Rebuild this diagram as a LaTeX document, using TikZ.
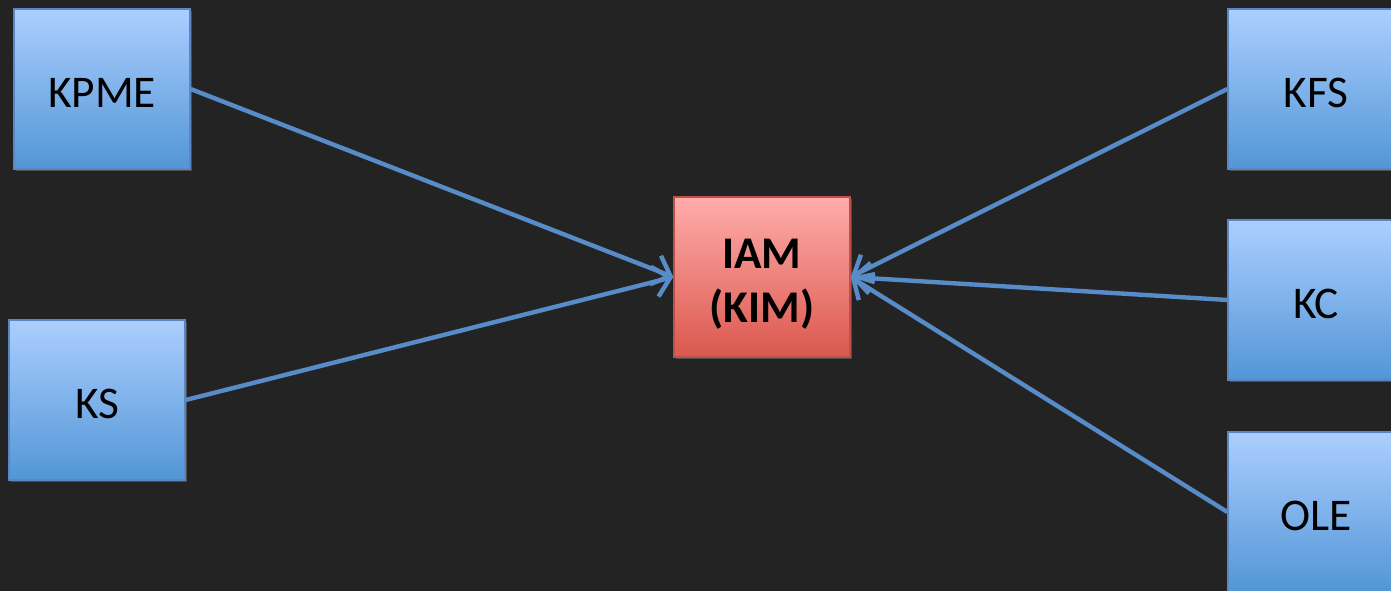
\documentclass[tikz,border=0pt]{standalone}
\usepackage{fontspec}
\setmainfont{Carlito}
\usetikzlibrary{arrows.meta,shadows}

\definecolor{bgdark}{RGB}{35,35,35}
\definecolor{boxtop}{RGB}{172,206,255}
\definecolor{boxbot}{RGB}{82,150,214}
\definecolor{boxline}{RGB}{90,135,195}
\definecolor{redtop}{RGB}{255,172,170}
\definecolor{redbot}{RGB}{219,88,78}
\definecolor{redline}{RGB}{190,80,76}
\definecolor{linkblue}{RGB}{88,140,200}

\begin{document}
\begin{tikzpicture}[x=0.75pt,y=-0.75pt,
    main node/.style={rectangle,draw=boxline,line width=1pt,minimum width=132pt,minimum height=120pt,
        top color=boxtop,bottom color=boxbot,font=\fontsize{34}{41}\selectfont,
        text height=28pt,text depth=0pt,
        drop shadow={opacity=0.45,shadow xshift=1.5pt,shadow yshift=-1.5pt}},
    hub node/.style={main node,draw=redline,top color=redtop,bottom color=redbot,
        font=\fontsize{34}{41}\selectfont\bfseries,align=center,text height=69pt,text depth=0pt},
    link/.style={draw=linkblue,line width=3.3pt,-{Straight Barb[length=12pt,width=23pt,line width=3.3pt]}}]
                \useasboundingbox (0,0) rectangle (1391,591);
                \fill[bgdark] (0,0) rectangle (1391,591);

                \node[main node] (kpme) at (102,89) {KPME};
                \node[main node] (ks) at (97,400) {KS};
                \node[hub node] (iam) at (762,277) {IAM\\(KIM)};
                \node[main node] (kfs) at (1316,89) {KFS};
                \node[main node] (kc) at (1316,300) {KC};
                \node[main node] (ole) at (1316,512) {OLE};

                \path[every edge/.style={link}]
                    (kpme.east) edge (iam.west)
                    (ks.east) edge (iam.west)
                    (kfs.west) edge (iam.east)
                    (kc.west) edge (iam.east)
                    (ole.west) edge (iam.east)
                    ;
            \end{tikzpicture}
\end{document}
